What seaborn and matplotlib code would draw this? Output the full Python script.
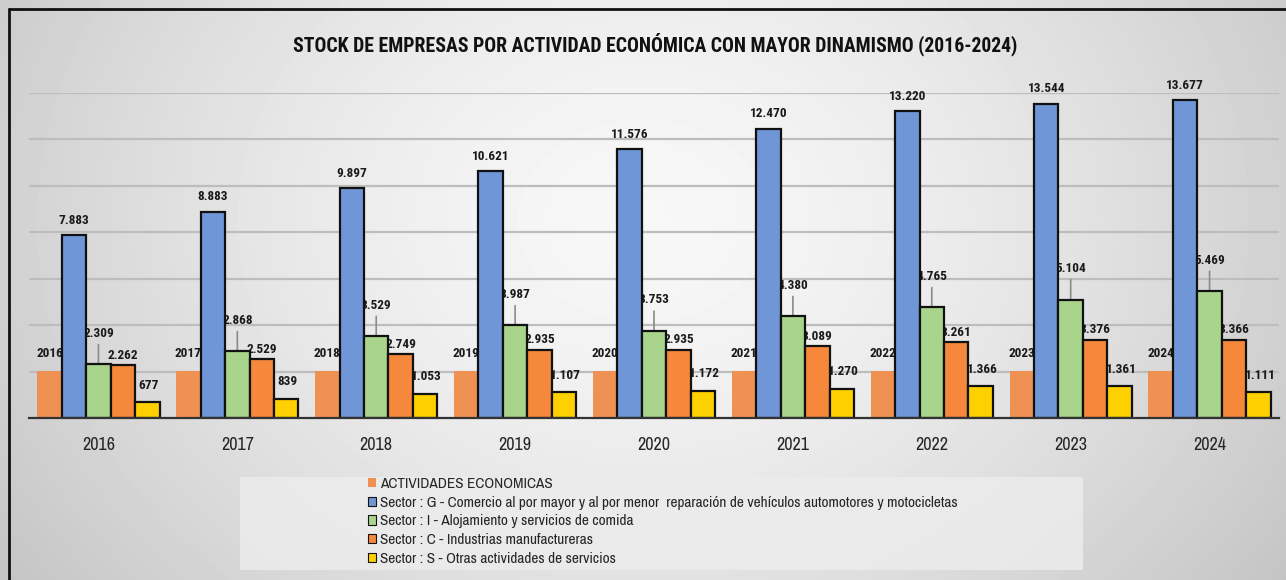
import numpy as np
import pandas as pd
import matplotlib
matplotlib.use("Agg")
import matplotlib.pyplot as plt
from matplotlib.patches import Rectangle
from matplotlib.lines import Line2D
from matplotlib import font_manager as fm
import seaborn as sns

# ---------------- data ----------------
years = ["2016", "2017", "2018", "2019", "2020", "2021", "2022", "2023", "2024"]
actividades = [2016, 2017, 2018, 2019, 2020, 2021, 2022, 2023, 2024]
sector_g = [7883, 8883, 9897, 10621, 11576, 12470, 13220, 13544, 13677]
sector_i = [2309, 2868, 3529, 3987, 3753, 4380, 4765, 5104, 5469]
sector_c = [2262, 2529, 2749, 2935, 2935, 3089, 3261, 3376, 3366]
sector_s = [677, 839, 1053, 1107, 1172, 1270, 1366, 1361, 1111]

series_names = [
    "ACTIVIDADES ECONOMICAS",
    "Sector : G - Comercio al por mayor y al por menor  reparación de vehículos automotores y motocicletas",
    "Sector : I - Alojamiento y servicios de comida",
    "Sector : C - Industrias manufactureras",
    "Sector : S - Otras actividades de servicios",
]
series_values = [actividades, sector_g, sector_i, sector_c, sector_s]
colors = ["#EF9152", "#6F97D7", "#A9D48C", "#F5883B", "#FFD000"]
title = "STOCK DE EMPRESAS POR ACTIVIDAD ECONÓMICA CON MAYOR DINAMISMO (2016-2024)"

rows = []
for name, vals in zip(series_names, series_values):
    for y, v in zip(years, vals):
        rows.append({"Año": y, "Serie": name, "Valor": v})
df = pd.DataFrame(rows)

# ---------------- style ----------------
sns.set_style("white")
cands = ["Liberation Sans Narrow", "Arial Narrow", "Archivo Narrow", "Roboto Condensed",
         "Barlow Semi Condensed", "Barlow Condensed", "Asap Condensed"]
ttf = fm.fontManager.ttflist
def pick(bold):
    for c in cands:
        ws = [f.weight for f in ttf if f.name == c and f.style == "normal"]
        ws = [w if isinstance(w, int) else 400 for w in ws]
        if ws and (not bold or max(ws) >= 600):
            return c
    return "DejaVu Sans"
REG = pick(False)
BOLD = pick(True)
plt.rcParams["font.family"] = [REG, "DejaVu Sans"]
BFAM = [BOLD, "DejaVu Sans"]

W, H = 1286, 580
fig = plt.figure(figsize=(W / 100, H / 100), dpi=100)

# background gradient
gx, gy = np.meshgrid(np.linspace(0, 1, 300), np.linspace(0, 1, 140))
r = np.sqrt(((gx - 0.5) / 0.5) ** 2 + ((gy - 0.62) / 0.9) ** 2)
grad = np.clip(0.97 - 0.15 * r ** 1.5, 0, 1)
bgax = fig.add_axes([0, 0, 1, 1], zorder=-10)
bgax.imshow(grad, cmap="gray", vmin=0, vmax=1, aspect="auto",
            extent=[0, 1, 0, 1], origin="lower", interpolation="bicubic")
bgax.set_xlim(0, 1)
bgax.set_ylim(0, 1)
bgax.axis("off")

# frame lines (top & left)
fig.add_artist(Line2D([9 / W, 1], [1 - 9 / H, 1 - 9 / H], color="#111111", lw=2, transform=fig.transFigure))
fig.add_artist(Line2D([9 / W, 9 / W], [0, 1 - 9 / H], color="#111111", lw=2, transform=fig.transFigure))

# legend background box
fig.add_artist(Rectangle((240 / W, 1 - 570 / H), (1083 - 240) / W, (570 - 477) / H,
                         transform=fig.transFigure, facecolor="#ECECEC", edgecolor="none",
                         alpha=0.85, zorder=0.5))

ax = fig.add_axes([29 / W, 1 - 418 / H, 1250 / W, (418 - 93) / H])
ax.patch.set_alpha(0)

sns.barplot(data=df, x="Año", y="Valor", hue="Serie", hue_order=series_names,
            palette=colors, width=0.88, gap=0, ax=ax, saturation=1,
            edgecolor="#111111", linewidth=1.6, legend=True, errorbar=None)
handles, labels = ax.get_legend_handles_labels()
ax.get_legend().remove()

ax.set_ylim(0, 14000)
ax.set_yticks(np.arange(2000, 14001, 2000))
ax.yaxis.grid(True, color="#BDBDBD", lw=1.6)
ax.set_axisbelow(True)
ax.set_yticklabels([])
ax.tick_params(axis="y", length=0)
ax.tick_params(axis="x", length=0, pad=14, labelsize=13)
ax.set_xlabel("")
ax.set_ylabel("")
for s in ["top", "right", "left"]:
    ax.spines[s].set_visible(False)
ax.spines["bottom"].set_color("#333333")
ax.spines["bottom"].set_linewidth(1.6)
ax.spines["bottom"].set_zorder(4)

def fmt(v):
    return f"{v:,}".replace(",", ".")

px = 0.72  # points per pixel
offsets = [18, 15, 31, 10, 17]  # label center above bar top, in px
xshift = [0, 0, 0, 0, 1.5]
for k, cont in enumerate(ax.containers):
    for j, bar in enumerate(cont):
        bar.set_zorder(3)
        if k == 0:
            bar.set_edgecolor("none")
            bar.set_linewidth(0)
        h = bar.get_height()
        xc = bar.get_x() + bar.get_width() / 2
        txt = str(series_values[k][j]) if k == 0 else fmt(series_values[k][j])
        kw = dict(xy=(xc, h), xytext=(xshift[k] * px, offsets[k] * px), textcoords="offset points",
                  ha="center", va="center", fontsize=9.5, fontweight="bold",
                  family=BFAM, color="#1A1A1A", zorder=2.8)
        if k == 2:
            kw["arrowprops"] = dict(arrowstyle="-", color="#8A8A8A", lw=1.2,
                                    shrinkA=1, shrinkB=0)
        ax.annotate(txt, **kw)

for h_ in handles:
    h_.set_linewidth(0.8)
handles[0].set_edgecolor("none")

fig.legend(handles, labels, loc="upper left", bbox_to_anchor=(368 / W, 1 - 477 / H),
           frameon=False, fontsize=11, handlelength=0.55, handleheight=0.55,
           handletextpad=0.25, labelspacing=0.31, borderpad=0, borderaxespad=0)

fig.text(655 / W, 1 - 44 / H, title, ha="center", va="center",
         fontsize=14.2, fontweight="bold", family=BFAM, color="#111111")

fig.savefig("out.png", dpi=100)
